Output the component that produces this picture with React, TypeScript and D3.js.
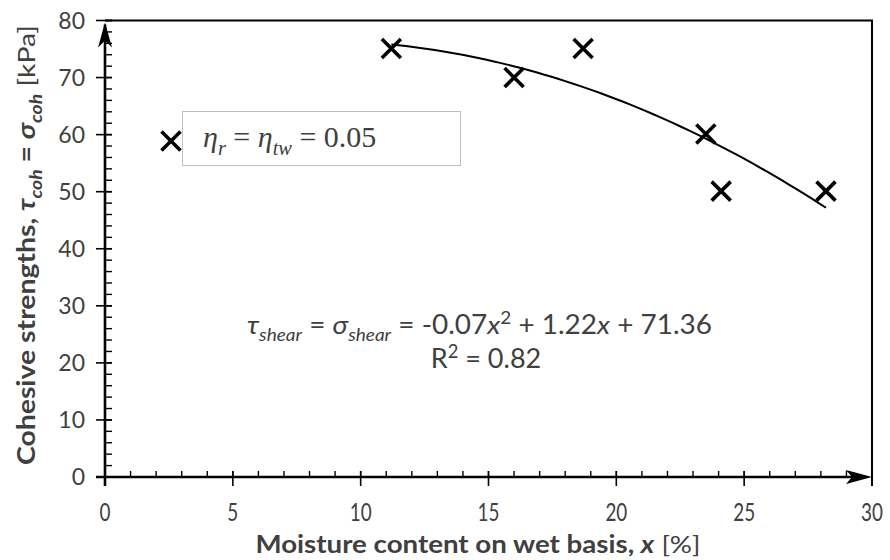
import { useRef, useEffect } from 'react'
import * as d3 from 'd3'

// measured points (moisture %, cohesive strength kPa)
const moisture = [11.2, 16.0, 18.7, 23.5, 24.1, 28.2]
const strength = [75.1, 70.0, 75.1, 60.1, 50.1, 50.1]

const xTicks = [0, 5, 10, 15, 20, 25, 30]
const yTicks = [0, 10, 20, 30, 40, 50, 60, 70, 80]
const xMinorStep = 1
const yMinorStep = 2

const legendLabel = [
  { t: 'η', i: true },
  { t: 'r', i: true, s: 'sub' },
  { t: ' = ' },
  { t: 'η', i: true },
  { t: 'tw', i: true, s: 'sub' },
  { t: ' = 0.05' },
]
const equationLabel = [
  { t: 'τ', i: true },
  { t: 'shear', i: true, s: 'sub' },
  { t: ' = ' },
  { t: 'σ', i: true },
  { t: 'shear', i: true, s: 'sub' },
  { t: ' = -0.07' },
  { t: 'x', i: true },
  { t: '2', s: 'sup' },
  { t: ' + 1.22' },
  { t: 'x', i: true },
  { t: ' + 71.36' },
]
const r2Label = [{ t: 'R' }, { t: '2', s: 'sup' }, { t: ' = 0.82' }]
const yTitle = [
  { t: 'Cohesive strengths, ' },
  { t: 'τ', i: true },
  { t: 'coh', i: true, s: 'sub' },
  { t: ' = ' },
  { t: 'σ', i: true },
  { t: 'coh', i: true, s: 'sub' },
  { t: ' [kPa]', w: 'normal' },
]
const xTitle = [
  { t: 'Moisture content on wet basis, ' },
  { t: 'x', i: true },
  { t: ' [%]', w: 'normal' },
]

type Part = { t: string; i?: boolean; s?: string; w?: string }

const FONT = 'Lato, "Open Sans", sans-serif'
const INK = '#404040'

// least squares quadratic fit y = a x^2 + b x + c
function fitQuadratic(xs: number[], ys: number[]) {
  const S = [0, 0, 0, 0, 0]
  const T = [0, 0, 0]
  xs.forEach((x, k) => {
    for (let p = 0; p < 5; p++) S[p] += Math.pow(x, p)
    for (let p = 0; p < 3; p++) T[p] += Math.pow(x, p) * ys[k]
  })
  const M = [
    [S[4], S[3], S[2]],
    [S[3], S[2], S[1]],
    [S[2], S[1], S[0]],
  ]
  const det = (m: number[][]) =>
    m[0][0] * (m[1][1] * m[2][2] - m[1][2] * m[2][1]) -
    m[0][1] * (m[1][0] * m[2][2] - m[1][2] * m[2][0]) +
    m[0][2] * (m[1][0] * m[2][1] - m[1][1] * m[2][0])
  const D = det(M)
  const rhs = [T[2], T[1], T[0]]
  const solve = (col: number) => det(M.map((row, r) => row.map((v, c) => (c === col ? rhs[r] : v)))) / D
  return { a: solve(0), b: solve(1), c: solve(2) }
}

function richText(sel: any, parts: Part[], size: number) {
  let shift = 0
  parts.forEach((p) => {
    const target = p.s === 'sub' ? size * 0.28 : p.s === 'sup' ? -size * 0.38 : 0
    sel
      .append('tspan')
      .attr('dy', target - shift)
      .attr('font-size', p.s ? size * 0.68 : size)
      .attr('font-style', p.i ? 'italic' : 'normal')
      .attr('font-weight', p.w ?? null)
      .text(p.t)
    shift = target
  })
}

export default function App() {
  const svgRef = useRef<SVGSVGElement>(null)

  useEffect(() => {
    if (!svgRef.current) return
    const svg = d3.select(svgRef.current)
    svg.selectAll('*').remove()

    const x = d3.scaleLinear().domain([0, 30]).range([105, 872])
    const y = d3.scaleLinear().domain([0, 80]).range([477, 20.5])
    const [x0, x1] = x.range()
    const [y0, y1] = y.range()

    // frame (top + right)
    svg
      .append('path')
      .attr('d', `M${x0},${y1}H${x1}V${y0 + 9}`)
      .attr('fill', 'none')
      .attr('stroke', '#000')
      .attr('stroke-width', 2)

    // minor ticks
    d3.range(0, 30 + 1e-6, xMinorStep).forEach((v) => {
      svg.append('line').attr('x1', x(v)).attr('x2', x(v)).attr('y1', y0 - 6).attr('y2', y0).attr('stroke', '#000').attr('stroke-width', 1.4)
    })
    d3.range(0, 80 + 1e-6, yMinorStep).forEach((v) => {
      svg.append('line').attr('x1', x0).attr('x2', x0 + 7).attr('y1', y(v)).attr('y2', y(v)).attr('stroke', '#000').attr('stroke-width', 1.4)
    })
    // major ticks
    xTicks.forEach((v) => {
      svg.append('line').attr('x1', x(v)).attr('x2', x(v)).attr('y1', y0 - 6).attr('y2', y0 + 9).attr('stroke', '#000').attr('stroke-width', 1.6)
      svg
        .append('text')
        .attr('transform', `translate(${x(v)},${y0 + 44}) scale(0.82,1.1)`)
        .attr('text-anchor', 'middle')
        .attr('font-family', FONT)
        .attr('font-size', 23)
        .attr('fill', INK)
        .text(v)
    })
    yTicks.forEach((v) => {
      svg.append('line').attr('x1', x0 - 9).attr('x2', x0 + 7).attr('y1', y(v)).attr('y2', y(v)).attr('stroke', '#000').attr('stroke-width', 1.6)
      svg
        .append('text')
        .attr('x', x0 - 20)
        .attr('y', y(v) + 8)
        .attr('text-anchor', 'end')
        .attr('font-family', FONT)
        .attr('font-size', 23)
        .attr('fill', INK)
        .text(v)
    })

    // axes with arrows
    svg.append('line').attr('x1', x0).attr('x2', x0).attr('y1', y0 + 9).attr('y2', y1 + 4).attr('stroke', '#000').attr('stroke-width', 2.6)
    svg.append('line').attr('x1', x0 - 9).attr('x2', x1 - 6).attr('y1', y0).attr('y2', y0).attr('stroke', '#000').attr('stroke-width', 2.6)
    svg
      .append('path')
      .attr('d', `M${x0},${y1 + 2}L${x0 - 7},${y1 + 27}L${x0},${y1 + 20}L${x0 + 7},${y1 + 27}Z`)
      .attr('fill', '#000')
    svg
      .append('path')
      .attr('d', `M${x1},${y0}L${x1 - 26},${y0 - 7}L${x1 - 20},${y0}L${x1 - 26},${y0 + 7}Z`)
      .attr('fill', '#000')

    // trendline (quadratic least squares)
    const fit = fitQuadratic(moisture, strength)
    const [xa, xb] = d3.extent(moisture) as [number, number]
    const samples = d3.range(xa, xb + 1e-6, (xb - xa) / 60)
    svg
      .append('path')
      .datum(samples)
      .attr('fill', 'none')
      .attr('stroke', '#000')
      .attr('stroke-width', 2)
      .attr(
        'd',
        d3
          .line<number>()
          .x((d) => x(d))
          .y((d) => y(fit.a * d * d + fit.b * d + fit.c))
      )

    // cross markers
    const cross = (cx: number, cy: number) =>
      svg
        .append('path')
        .attr('d', `M${cx - 9.5},${cy - 9.5}L${cx + 9.5},${cy + 9.5}M${cx - 9.5},${cy + 9.5}L${cx + 9.5},${cy - 9.5}`)
        .attr('stroke', '#000')
        .attr('stroke-width', 3.6)
        .attr('fill', 'none')
    moisture.forEach((m, k) => cross(x(m), y(strength[k])))

    // legend
    svg
      .append('rect')
      .attr('x', 182.5)
      .attr('y', 111.5)
      .attr('width', 278)
      .attr('height', 54)
      .attr('fill', '#fff')
      .attr('stroke', '#bfbfbf')
      .attr('stroke-width', 1)
    cross(171, 141)
    richText(
      svg
        .append('text')
        .attr('x', 203)
        .attr('y', 147)
        .attr('font-family', '"Liberation Serif", "Times New Roman", serif')
        .attr('fill', INK),
      legendLabel,
      30
    )

    // equation + R²
    richText(
      svg
        .append('text')
        .attr('x', 247)
        .attr('y', 334)
        .attr('font-family', FONT)
        .attr('fill', INK)
        .attr('textLength', 465)
        .attr('lengthAdjust', 'spacingAndGlyphs'),
      equationLabel,
      26
    )
    richText(
      svg.append('text').attr('x', 486).attr('y', 368).attr('text-anchor', 'middle').attr('font-family', FONT).attr('fill', INK),
      r2Label,
      27
    )

    // axis titles
    richText(
      svg
        .append('text')
        .attr('x', 478)
        .attr('y', 553)
        .attr('text-anchor', 'middle')
        .attr('font-family', FONT)
        .attr('font-weight', 'bold')
        .attr('fill', INK)
        .attr('textLength', 445)
        .attr('lengthAdjust', 'spacingAndGlyphs'),
      xTitle,
      24
    )
    richText(
      svg
        .append('text')
        .attr('transform', 'translate(35,245) rotate(-90)')
        .attr('text-anchor', 'middle')
        .attr('font-family', FONT)
        .attr('font-weight', 'bold')
        .attr('fill', INK)
        .attr('textLength', 440)
        .attr('lengthAdjust', 'spacingAndGlyphs'),
      yTitle,
      24
    )
  }, [])

  return (
    <svg
      ref={svgRef}
      width={890}
      height={560}
      style={{ position: 'absolute', left: 0, top: 0, background: '#fff' }}
    />
  )
}
